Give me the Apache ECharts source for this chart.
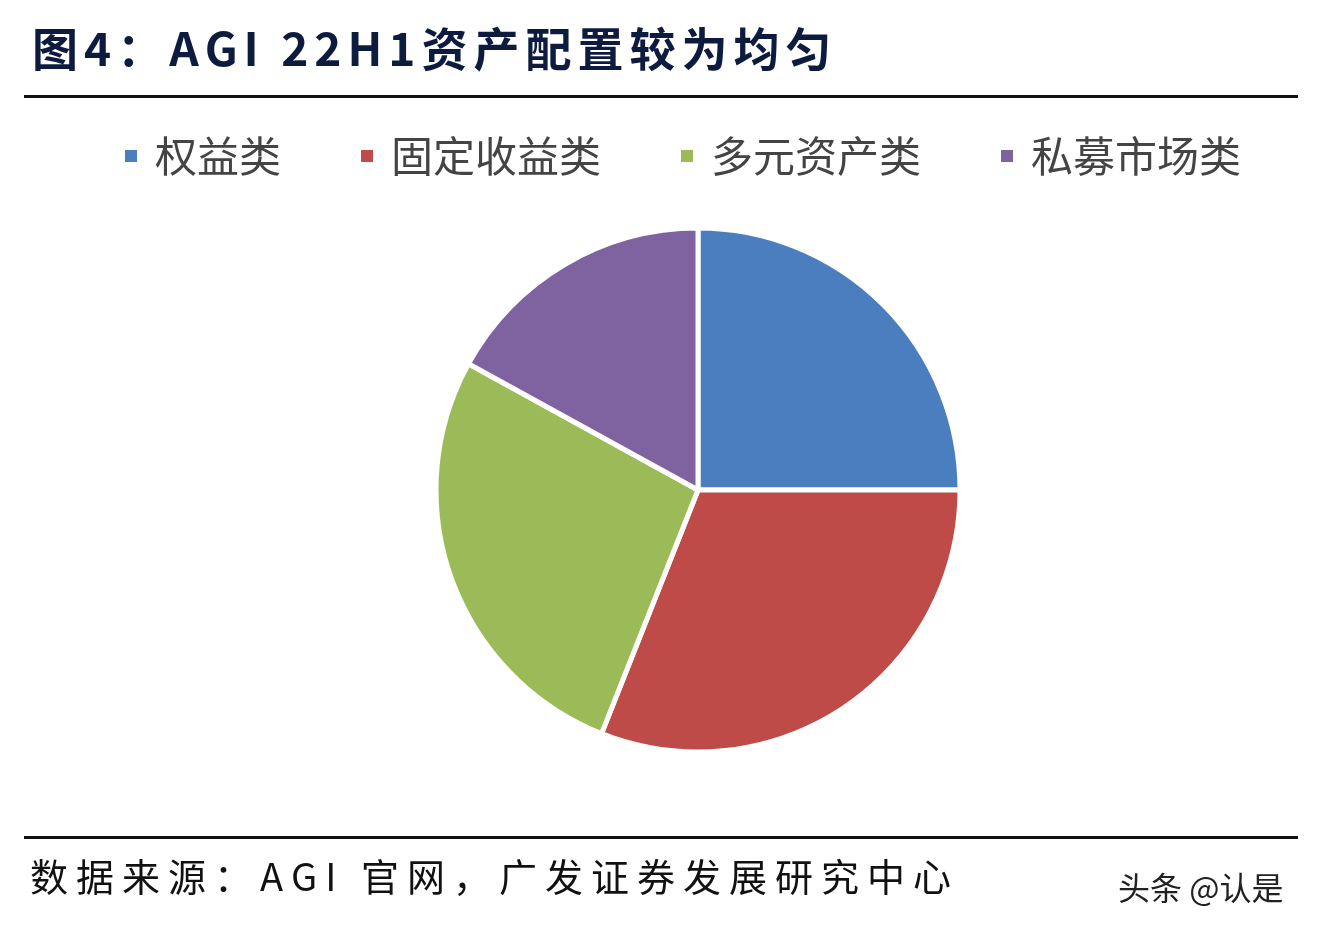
<!DOCTYPE html>
<html><head><meta charset="utf-8">
<script src="https://cdn.jsdelivr.net/npm/echarts@6/dist/echarts.min.js"></script>
<style>html,body{margin:0;padding:0;background:#fff}#c{width:1322px;height:940px}</style>
</head><body><div id="c"></div>
<script>
const categories = ['权益类','固定收益类','多元资产类','私募市场类'];
const values = [25, 31, 27, 17];
const colors = ['#4a7ebf','#be4b48','#9bbb59','#7f63a1'];
const titleText = '图4：AGI 22H1资产配置较为均匀';
const footerText = '数据来源：AGI 官网，广发证券发展研究中心';
function spaced(text, x, y, font, fill, extra){
  const out=[]; const cv=document.createElement('canvas').getContext('2d'); cv.font=font;
  let cx=x;
  for(const ch of text){
    out.push({type:'text',x:cx,y:y,style:{text:ch,font:font,fill:fill}});
    cx+=cv.measureText(ch).width+extra;
  }
  return out;
}
const chart = echarts.init(document.getElementById('c'));
chart.setOption({
  animation:false,
  graphic:[].concat(
    spaced(titleText,32,26,'bold 46px "Noto Sans CJK SC", sans-serif','#0d1b3e',6),
    [{type:'rect',shape:{x:24,y:95,width:1274,height:3},style:{fill:'#111'}},
     {type:'rect',shape:{x:24,y:836,width:1274,height:3},style:{fill:'#111'}},
     {type:'text',x:1118,y:872,style:{text:'头条 @认是',font:'32px "Noto Sans CJK SC", sans-serif',fill:'#222'}}],
    spaced(footerText,30,858,'38px "Noto Sans CJK SC", sans-serif','#111',8)
  ),
  legend:{top:130,left:118,itemWidth:14,itemHeight:14,itemGap:78,icon:'rect',
    textStyle:{fontSize:42,color:'#444',fontFamily:'"Noto Sans CJK SC", sans-serif',padding:[0,0,0,12]},
    data:categories},
  series:[{type:'pie',center:[698,490],radius:[0,262],startAngle:90,clockwise:true,
    label:{show:false},labelLine:{show:false},
    itemStyle:{borderColor:'#fff',borderWidth:5},
    data:categories.map((n,i)=>({name:n,value:values[i],itemStyle:{color:colors[i]}}))}]
});
</script></body></html>
